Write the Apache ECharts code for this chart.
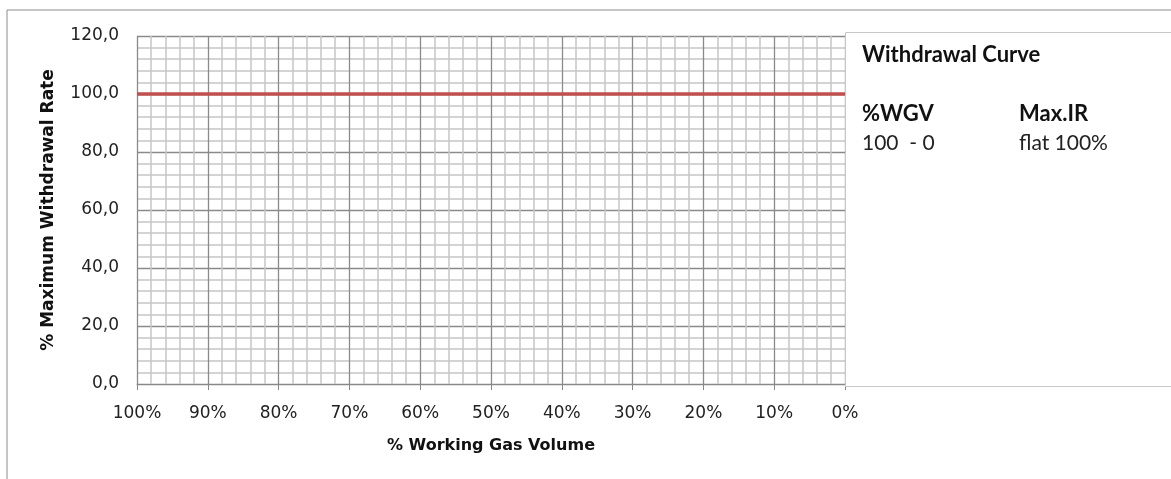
<!DOCTYPE html>
<html><head><meta charset="utf-8">
<script src="https://cdn.jsdelivr.net/npm/echarts@6/dist/echarts.min.js"></script>
<style>html,body{margin:0;padding:0;background:#fff}#c{width:1171px;height:479px}</style>
</head><body><div id="c"></div>
<script>
// Data
const wgvPercent = [100, 0];          // % Working Gas Volume
const maxRate = [100, 100];           // % Maximum Withdrawal Rate
const yTicks = [0, 20, 40, 60, 80, 100, 120];
const xTicks = [100, 90, 80, 70, 60, 50, 40, 30, 20, 10, 0];
const panelTitle = 'Withdrawal Curve';
const panelHeaders = ['%WGV', 'Max.IR'];
const panelRow = ['100  - 0', 'flat 100%'];

const chart = echarts.init(document.getElementById('c'), null, {renderer: 'canvas'});
const tickFont = {fontFamily: 'DejaVu Sans', fontSize: 17, color: '#222'};
const panelFont = 'Lato';
chart.setOption({
  animation: false,
  backgroundColor: '#fff',
  grid: {left: 137, right: 326, top: 36, bottom: 95},
  xAxis: {
    type: 'value', min: 0, max: 100, interval: 10, inverse: true,
    name: '% Working Gas Volume', nameLocation: 'middle', nameGap: 54,
    nameTextStyle: {fontFamily: 'DejaVu Sans', fontSize: 16, fontWeight: 'bold', color: '#111'},
    axisLine: {show: true, lineStyle: {color: '#888', width: 1}},
    axisTick: {show: true, length: 6, lineStyle: {color: '#888'}},
    axisLabel: Object.assign({margin: 21, formatter: v => v + '%'}, tickFont),
    splitLine: {show: true, lineStyle: {color: '#8a8a8a', width: 1.3}},
    minorTick: {show: false, splitNumber: 5},
    minorSplitLine: {show: true, lineStyle: {color: '#c6c6c6', width: 1.5}}
  },
  yAxis: {
    type: 'value', min: 0, max: 120, interval: 20,
    name: '% Maximum Withdrawal Rate', nameLocation: 'middle', nameGap: 80,
    nameTextStyle: {fontFamily: 'DejaVu Sans', fontSize: 17, fontWeight: 'bold', color: '#111'},
    axisLine: {show: true, lineStyle: {color: '#888', width: 1}},
    axisTick: {show: true, length: 6, lineStyle: {color: '#888'}},
    axisLabel: Object.assign({margin: 18, formatter: v => v.toFixed(1).replace('.', ',')}, tickFont),
    splitLine: {show: true, lineStyle: {color: '#8a8a8a', width: 1.3}},
    minorTick: {show: false, splitNumber: 5},
    minorSplitLine: {show: true, lineStyle: {color: '#c6c6c6', width: 1.5}}
  },
  series: [{
    type: 'line',
    data: wgvPercent.map((x, i) => [x, maxRate[i]]),
    showSymbol: false,
    lineStyle: {color: '#c0504d', width: 3.5},
    z: 5
  }],
  graphic: [
    {type: 'polyline', shape: {points: [[7, 479], [7, 10], [1171, 10]]}, style: {stroke: '#8c8c8c', lineWidth: 1, fill: null}, silent: true},
    {type: 'rect', shape: {x: 845.5, y: 32.5, width: 340, height: 354}, style: {stroke: '#c8c8c8', lineWidth: 1, fill: '#fff'}, z: 10, silent: true},
    {type: 'text', left: 862, top: 44, style: {text: panelTitle, fontFamily: panelFont, fontWeight: 'bold', fontSize: 22, fill: '#111'}, z: 11},
    {type: 'text', left: 862, top: 103, style: {text: panelHeaders[0], fontFamily: panelFont, fontWeight: 'bold', fontSize: 22, fill: '#111'}, z: 11},
    {type: 'text', left: 1019, top: 103, style: {text: panelHeaders[1], fontFamily: panelFont, fontWeight: 'bold', fontSize: 22, fill: '#111'}, z: 11},
    {type: 'text', left: 862, top: 133, style: {text: panelRow[0], fontFamily: panelFont, fontSize: 21, fill: '#222'}, z: 11},
    {type: 'text', left: 1019, top: 133, style: {text: panelRow[1], fontFamily: panelFont, fontSize: 21, fill: '#222'}, z: 11}
  ]
});
</script></body></html>
